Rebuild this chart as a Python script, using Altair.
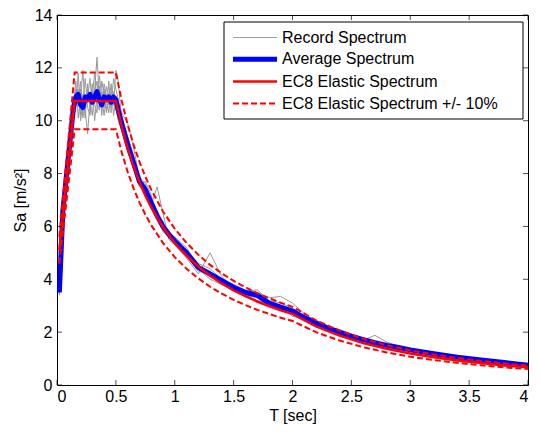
import altair as alt
import pandas as pd

# ---------------- data ----------------
T_rec = [0.02, 0.05, 0.08, 0.11, 0.14, 0.16, 0.18, 0.2, 0.22, 0.24, 0.26, 0.28, 0.3, 0.32, 0.34,
         0.36, 0.38, 0.4, 0.42, 0.44, 0.46, 0.48, 0.5, 0.52, 0.55, 0.6, 0.65, 0.7, 0.75, 0.8,
         0.85, 0.9, 0.95, 1.0, 1.1, 1.2, 1.3, 1.4, 1.5, 1.6, 1.7, 1.8, 1.9, 2.0, 2.1,
         2.2, 2.3, 2.4, 2.5, 2.6, 2.7, 2.8, 2.9, 3.0, 3.2, 3.4, 3.6, 3.8, 4.0]

rec1 = [3.4, 6.3, 7.6, 9.0, 10.4, 11.2, 10.6, 11.5, 10.3, 11.0, 10.9, 11.6, 10.6, 11.2, 12.4,
        10.8, 11.1, 10.5, 11.3, 10.9, 11.0, 10.6, 11.9, 11.5, 10.0, 9.4, 8.7, 7.9, 7.6, 7.0,
        6.6, 6.1, 5.8, 5.5, 5.1, 4.6, 4.4, 4.0, 3.8, 3.6, 3.5, 3.3, 3.35, 3.1, 2.7,
        2.4, 2.2, 2.1, 1.9, 1.78, 1.65, 1.55, 1.45, 1.38, 1.22, 1.08, 0.98, 0.88, 0.78]
rec2 = [3.6, 6.7, 8.0, 9.4, 10.2, 10.4, 11.8, 10.2, 11.0, 10.1, 11.4, 10.4, 11.1, 10.0, 10.9,
        11.3, 10.2, 11.2, 10.4, 11.5, 10.3, 11.1, 10.5, 10.0, 9.6, 8.8, 8.3, 7.5, 7.3, 6.8,
        7.5, 6.5, 5.5, 5.3, 4.8, 4.2, 5.0, 4.1, 3.7, 3.4, 3.3, 3.0, 2.9, 2.75, 2.6,
        2.35, 2.1, 1.95, 1.82, 1.7, 1.88, 1.62, 1.48, 1.32, 1.15, 1.04, 0.95, 0.84, 0.75]
rec3 = [3.5, 6.5, 8.2, 9.2, 10.6, 11.5, 10.1, 10.8, 11.9, 10.4, 9.5, 10.8, 11.4, 10.6, 10.3,
        11.7, 10.9, 10.2, 11.0, 10.6, 11.4, 10.2, 10.8, 10.7, 10.3, 9.9, 9.0, 7.8, 7.2, 6.7,
        6.5, 5.8, 5.6, 5.3, 4.9, 4.4, 4.0, 3.8, 3.6, 3.4, 3.2, 3.1, 2.85, 2.7, 2.5,
        2.3, 2.15, 1.98, 1.83, 1.7, 1.58, 1.48, 1.4, 1.3, 1.16, 1.02, 0.93, 0.83, 0.72]
rec4 = [3.4, 6.6, 7.8, 9.1, 10.3, 10.8, 11.2, 10.0, 10.7, 11.6, 10.5, 10.2, 11.0, 11.8, 10.7,
        10.4, 11.5, 11.0, 10.3, 10.8, 10.5, 11.6, 11.2, 10.8, 9.8, 9.3, 8.5, 7.6, 7.7, 7.2,
        6.3, 6.2, 5.6, 5.6, 5.2, 4.5, 4.3, 3.9, 3.75, 3.55, 3.6, 3.2, 3.1, 2.9, 2.55,
        2.4, 2.25, 2.05, 1.9, 1.75, 1.62, 1.52, 1.43, 1.35, 1.2, 1.1, 1.0, 0.87, 0.77]
rec5 = [3.6, 6.4, 7.9, 9.3, 10.5, 11.0, 10.9, 11.2, 10.1, 10.6, 11.2, 10.7, 10.2, 11.1, 11.5,
        10.5, 10.7, 11.4, 10.9, 10.3, 11.1, 10.8, 10.4, 10.2, 10.1, 9.2, 8.4, 7.7, 7.3, 6.9,
        6.4, 6.0, 5.7, 5.4, 4.9, 4.3, 4.2, 3.95, 3.65, 3.5, 3.35, 3.15, 3.0, 2.6, 2.5,
        2.32, 2.12, 1.97, 1.85, 1.72, 1.6, 1.5, 1.42, 1.32, 1.17, 1.06, 0.96, 0.86, 0.76]
records = [rec1, rec2, rec3, rec4, rec5]

avg = [3.5, 6.6, 7.9, 9.2, 10.5, 10.9, 11.0, 10.6, 10.5, 10.9, 10.8, 11.0, 10.7, 10.9, 11.1,
       10.8, 10.6, 10.9, 10.8, 10.9, 10.7, 10.9, 10.8, 10.4, 9.9, 9.1, 8.4, 7.7, 7.4, 6.9,
       6.4, 6.0, 5.7, 5.45, 5.0, 4.45, 4.2, 3.95, 3.7, 3.5, 3.4, 3.1, 2.95, 2.8, 2.55,
       2.35, 2.15, 2.0, 1.85, 1.72, 1.6, 1.5, 1.42, 1.33, 1.18, 1.05, 0.95, 0.85, 0.75]

T_ec8 = [0.02, 0.15, 0.5, 0.55, 0.6, 0.65, 0.7, 0.75, 0.8, 0.9, 1.0, 1.1, 1.2, 1.3, 1.4, 1.5,
         1.6, 1.7, 1.8, 1.9, 2.0, 2.2, 2.4, 2.6, 2.8, 3.0, 3.2, 3.4, 3.6, 3.8, 4.0]
ec8 = [5.1, 10.75, 10.75, 9.77, 8.96, 8.27, 7.68, 7.17, 6.72, 5.97, 5.375, 4.89, 4.48, 4.13,
       3.84, 3.58, 3.36, 3.16, 2.99, 2.83, 2.69, 2.22, 1.87, 1.59, 1.37, 1.19, 1.05, 0.93,
       0.83, 0.74, 0.67]
tolerance = 0.10  # "+/- 10%"

x_ticks = [0, 0.5, 1, 1.5, 2, 2.5, 3, 3.5, 4]
y_ticks = [0, 2, 4, 6, 8, 10, 12, 14]

legend_labels = ["Record Spectrum", "Average Spectrum", "EC8 Elastic Spectrum",
                 "EC8 Elastic Spectrum +/- 10%"]

# ---------------- build tables ----------------
rec_rows = []
for i, r in enumerate(records):
    for t, v in zip(T_rec, r):
        rec_rows.append({"T": t, "Sa": v, "rec": f"r{i}"})
rec_df = pd.DataFrame(rec_rows)
avg_df = pd.DataFrame({"T": T_rec, "Sa": avg})
ec8_df = pd.DataFrame({"T": T_ec8, "Sa": ec8})
up_df = pd.DataFrame({"T": T_ec8, "Sa": [v * (1 + tolerance) for v in ec8]})
lo_df = pd.DataFrame({"T": T_ec8, "Sa": [v * (1 - tolerance) for v in ec8]})

W, H = 471, 370
FONT = "Liberation Sans"

xs = alt.Scale(domain=[0, 4], nice=False, zero=False)
ys = alt.Scale(domain=[0, 14], nice=False)
x_axis = alt.Axis(values=x_ticks, format="~g", ticks=False, domain=False, grid=False,
                  labelPadding=3, title="T [sec]", titlePadding=3)
y_axis = alt.Axis(values=y_ticks, format="~g", ticks=False, domain=False, grid=False,
                  labelPadding=5, title="Sa [m/s²]", titlePadding=6)


def X():
    return alt.X("T:Q", scale=xs, axis=x_axis)


def Y():
    return alt.Y("Sa:Q", scale=ys, axis=y_axis)


rec_layer = alt.Chart(rec_df).mark_line(color="#999999", strokeWidth=1).encode(
    x=X(), y=Y(), detail="rec:N")
avg_layer = alt.Chart(avg_df).mark_line(color="#0000ff", strokeWidth=5, strokeJoin="round").encode(
    x=X(), y=Y())
ec8_layer = alt.Chart(ec8_df).mark_line(color="#ff0000", strokeWidth=2.5).encode(x=X(), y=Y())
up_layer = alt.Chart(up_df).mark_line(color="#ff0000", strokeWidth=2, strokeDash=[6, 3]).encode(
    x=X(), y=Y())
lo_layer = alt.Chart(lo_df).mark_line(color="#ff0000", strokeWidth=2, strokeDash=[6, 3]).encode(
    x=X(), y=Y())

xt_df = pd.DataFrame({"T": x_ticks})
yt_df = pd.DataFrame({"Sa": y_ticks})
tick_b = alt.Chart(xt_df).mark_tick(color="black", size=5, thickness=1).encode(
    x=X(), y=alt.value(H - 2.5))
tick_t = alt.Chart(xt_df).mark_tick(color="black", size=5, thickness=1).encode(
    x=X(), y=alt.value(2.5))
tick_l = alt.Chart(yt_df).mark_tick(color="black", size=5, thickness=1).encode(
    y=Y(), x=alt.value(2.5))
tick_r = alt.Chart(yt_df).mark_tick(color="black", size=5, thickness=1).encode(
    y=Y(), x=alt.value(W - 2.5))

one = pd.DataFrame({"a": [0]})
LX = W - 5 - 299  # legend box left edge
leg_box = alt.Chart(one).mark_rect(fill="white", stroke="black", strokeWidth=1).encode(
    x=alt.value(LX), x2=alt.value(W - 5), y=alt.value(7), y2=alt.value(104))

row_y = [22.5, 44.3, 66.5, 88.5]
styles = [
    dict(color="#a0a0a0", strokeWidth=1),
    dict(color="#0000ff", strokeWidth=5),
    dict(color="#ff0000", strokeWidth=2.5),
    dict(color="#ff0000", strokeWidth=2, strokeDash=[6, 3]),
]
leg_layers = [leg_box]
for lab, yy, st in zip(legend_labels, row_y, styles):
    leg_layers.append(alt.Chart(one).mark_rule(**st).encode(
        x=alt.value(LX + 9), x2=alt.value(LX + 53), y=alt.value(yy)))
    leg_layers.append(alt.Chart(pd.DataFrame({"label": [lab]})).mark_text(
        align="left", baseline="middle", font=FONT, fontSize=16, color="black").encode(
        x=alt.value(LX + 58), y=alt.value(yy), text="label:N"))

chart = alt.layer(
    rec_layer, avg_layer, ec8_layer, up_layer, lo_layer,
    tick_b, tick_t, tick_l, tick_r, *leg_layers
).properties(
    width=W, height=H,
    autosize=alt.AutoSizeParams(type="none"),
    padding={"left": 49, "top": 7, "right": 5, "bottom": 39},
    background="white",
).configure_view(
    stroke="black", strokeWidth=1
).configure_axis(
    labelFont=FONT, labelFontSize=16, labelColor="black",
    titleFont=FONT, titleFontSize=16, titleFontWeight="normal", titleColor="black",
)

chart.save("out.html", embed_options={"renderer": "svg", "actions": False})
